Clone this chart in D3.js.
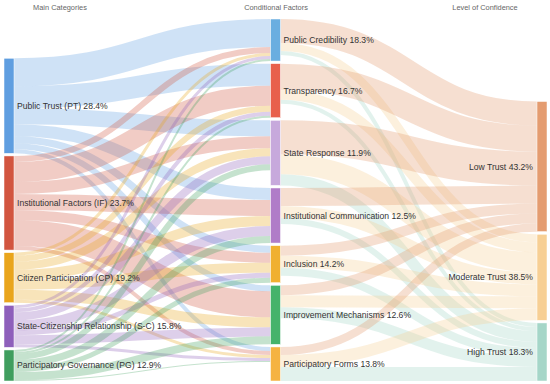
<!DOCTYPE html>
<html>
<head>
<meta charset="utf-8">
<script src="https://cdn.jsdelivr.net/npm/d3@7"></script>
<style>
  body { margin: 0; background: #fff; }
  text { font-family: "Liberation Sans", Arial, sans-serif; }
</style>
</head>
<body>
<script>
// columns of the sankey
var columnTitles = ["Main Categories", "Conditional Factors", "Level of Confidence"];

var leftNames = ["Public Trust (PT)", "Institutional Factors (IF)", "Citizen Participation (CP)",
                 "State-Citizenship Relationship (S-C)", "Participatory Governance (PG)"];
var leftShares = [28.4, 23.7, 19.2, 15.8, 12.9];

var midNames = ["Public Credibility", "Transparency", "State Response", "Institutional Communication",
                "Inclusion", "Improvement Mechanisms", "Participatory Forms"];
var midShares = [18.3, 16.7, 11.9, 12.5, 14.2, 12.6, 13.8];

var rightNames = ["Low Trust", "Moderate Trust", "High Trust"];
var rightShares = [43.2, 38.5, 18.3];

// flows: rows = left categories, cols = conditional factors
var leftToMid = [
    [28, 22, 16, 12, 7, 6, 4],
    [6, 20, 12, 16, 10, 26, 4],
    [3, 6, 8, 10, 10, 10, 3],
    [3, 4, 8, 10, 5, 9, 3],
    [2, 2, 6, 7, 5, 8, 1]
];
// flows: rows = conditional factors, cols = confidence level
var midToRight = [
    [24, 8, 4],
    [26, 10, 4],
    [34, 20, 11],
    [18, 12, 6],
    [10, 12, 8],
    [10, 12, 11],
    [8, 12, 14]
];

// colours
var leftColors = ["#5f9ee0", "#d2553f", "#e9a51c", "#8e5fbb", "#3f9e5e"];
var midColors = ["#6aaee0", "#e8604c", "#c7a9dc", "#b07cc8", "#f0b030", "#45b36b", "#f5b342"];
var rightColors = ["#e49c70", "#f7cf94", "#a5d6c8"];

window.onload = function(){
    var w = 550, h = 384;
    var top = 19, bottom = 381, nodeW = 10, pad = 2.6;

    var svg = d3.select("body").append("svg")
        .attr("width", w)
        .attr("height", h);

    // build nodes per column
    var cols = [
        {names: leftNames, shares: leftShares, colors: leftColors},
        {names: midNames, shares: midShares, colors: midColors},
        {names: rightNames, shares: rightShares, colors: rightColors}
    ];
    var x = d3.scalePoint().domain([0, 1, 2]).range([4, 537]);

    var columns = cols.map(function(c, ci){
        return c.names.map(function(n, i){
            return {name: n, share: c.shares[i], color: c.colors[i], col: ci, index: i,
                    x0: x(ci), x1: x(ci) + nodeW, inLinks: [], outLinks: []};
        });
    });

    var links = [];
    function addLinks(matrix, from, to){
        matrix.forEach(function(row, i){
            row.forEach(function(v, j){
                if (v <= 0) return;
                var l = {source: from[i], target: to[j], value: v};
                from[i].outLinks.push(l);
                to[j].inLinks.push(l);
                links.push(l);
            });
        });
    }
    addLinks(leftToMid, columns[0], columns[1]);
    addLinks(midToRight, columns[1], columns[2]);

    columns.forEach(function(col){
        col.forEach(function(n){
            n.value = Math.max(d3.sum(n.inLinks, function(l){ return l.value; }),
                               d3.sum(n.outLinks, function(l){ return l.value; }));
        });
    });

    // px per unit, so the tallest column fills the height
    var k = d3.min(columns, function(col){
        return (bottom - top - pad * (col.length - 1)) / d3.sum(col, function(n){ return n.value; });
    });
    var size = d3.scaleLinear().domain([0, 1]).range([0, k]);

    // stack columns from the bottom
    columns.forEach(function(col){
        var y = bottom;
        for (var i = col.length - 1; i >= 0; i--){
            col[i].y1 = y;
            col[i].y0 = y - size(col[i].value);
            y = col[i].y0 - pad;
        }
    });

    // link offsets within nodes
    columns.forEach(function(col){
        col.forEach(function(n){
            var sy = n.y0;
            n.outLinks.sort(function(a, b){ return a.target.index - b.target.index; })
                .forEach(function(l){
                    l.width = size(l.value);
                    l.sy = sy + l.width / 2;
                    sy += l.width;
                });
            var ty = n.y0;
            n.inLinks.sort(function(a, b){ return a.source.index - b.source.index; })
                .forEach(function(l){
                    l.width = size(l.value);
                    l.ty = ty + l.width / 2;
                    ty += l.width;
                });
        });
    });

    var linkPath = d3.linkHorizontal()
        .source(function(d){ return [d.source.x1, d.sy]; })
        .target(function(d){ return [d.target.x0, d.ty]; });

    svg.append("g")
        .attr("class", "links")
        .attr("fill", "none")
        .selectAll("path")
        .data(links)
        .enter()
        .append("path")
        .attr("d", linkPath)
        .attr("stroke", function(d){
            // first stage coloured by source, second stage by target
            return d.source.col === 0 ? d.source.color : d.target.color;
        })
        .attr("stroke-opacity", function(d){ return d.source.col === 0 ? 0.3 : 0.32; })
        .attr("stroke-width", function(d){ return d.width; });

    var nodes = [].concat(columns[0], columns[1], columns[2]);

    svg.append("g")
        .attr("class", "nodes")
        .selectAll("rect")
        .data(nodes)
        .enter()
        .append("rect")
        .attr("x", function(d){ return d.x0; })
        .attr("y", function(d){ return d.y0; })
        .attr("width", nodeW)
        .attr("height", function(d){ return d.y1 - d.y0; })
        .attr("fill", function(d){ return d.color; })
        .attr("stroke", "#fff")
        .attr("stroke-width", 0.5);

    svg.append("g")
        .attr("class", "labels")
        .selectAll("text")
        .data(nodes)
        .enter()
        .append("text")
        .attr("x", function(d){ return d.col === 2 ? d.x0 - 4 : d.x1 + 3; })
        .attr("y", function(d){ return (d.y0 + d.y1) / 2; })
        .attr("dy", "0.35em")
        .attr("text-anchor", function(d){ return d.col === 2 ? "end" : "start"; })
        .style("font-size", "8.6px")
        .style("fill", "#333")
        .text(function(d){ return d.name + " " + d.share + "%"; });

    // column headers
    var titleX = [60, 276, 485];
    svg.selectAll(".title")
        .data(columnTitles)
        .enter()
        .append("text")
        .attr("class", "title")
        .attr("x", function(d, i){ return titleX[i]; })
        .attr("y", 10)
        .attr("text-anchor", "middle")
        .style("font-size", "7.4px")
        .style("fill", "#666")
        .text(function(d){ return d; });
};
</script>
</body>
</html>
